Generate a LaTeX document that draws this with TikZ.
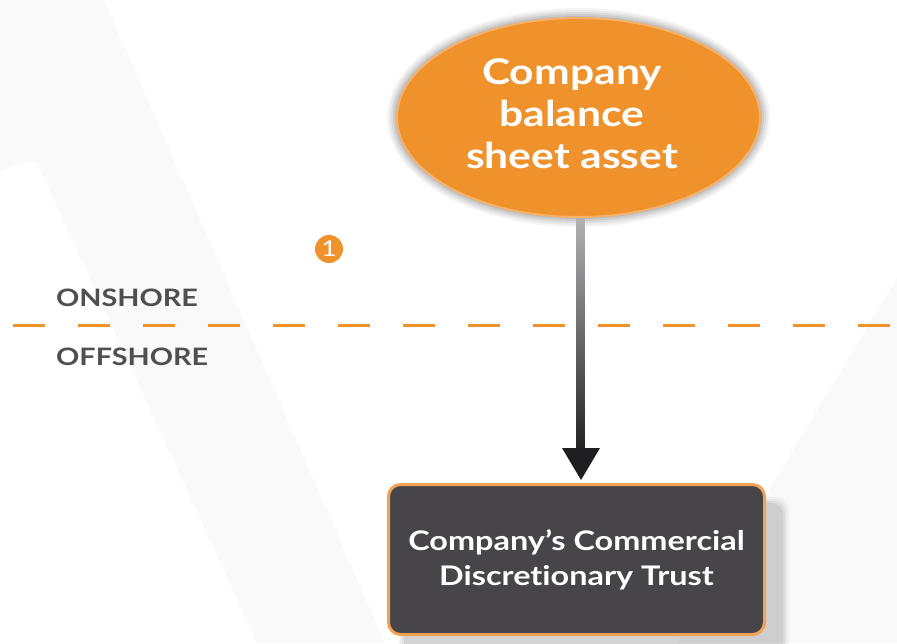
\documentclass[tikz,border=0pt]{standalone}
\usepackage{fontspec}
\setmainfont{Lato}[FakeStretch=1.2, Ligatures={NoCommon,NoRare}]
\usetikzlibrary{shapes.geometric,calc}
\definecolor{orng}{HTML}{F0922B}
\definecolor{orngl}{HTML}{F6B06A}
\definecolor{orngbox}{HTML}{F2A255}
\definecolor{boxfill}{HTML}{47454A}
\definecolor{txtgray}{HTML}{4E4E53}
\definecolor{wm}{HTML}{F9F9F9}
\definecolor{shafttop}{HTML}{B2B2B6}
\definecolor{shaftbot}{HTML}{232325}
\definecolor{headcol}{HTML}{1E1E20}
\tikzset{
  zonelabel/.style={text=txtgray, font=\fontsize{24}{26}\selectfont\bfseries, anchor=base west, inner sep=0pt},
  bigtext/.style={text=white, font=\fontsize{35.5}{42}\selectfont\bfseries, align=center},
  boxtext/.style={text=white, font=\fontsize{27}{35}\selectfont\bfseries, align=center},
}
\begin{document}
\begin{tikzpicture}[x=1pt,y=-1pt]
\useasboundingbox (0,0) rectangle (897,643);
\clip (0,0) rectangle (897,643);
% faint watermark
\fill[wm] (0,0) -- (104,0) -- (385,643) -- (257,643) -- (37,163) .. controls (22,160) and (10,166) .. (0,173) -- cycle;
\fill[wm] (677,643) -- (897,277) -- (897,643) -- cycle;
% dashed divider
\draw[orng, line width=3pt, dash pattern=on 32pt off 33pt] (13,325) -- (897,325);
\node[zonelabel] (on) at (56,306) {ONSHORE};
\node[zonelabel] (off) at (56,365) {OFFSHORE};
% ellipse halo
\foreach \d/\o in {10/0.04,8/0.05,6/0.06,4/0.07,2/0.08}
  \fill[black, opacity=\o] (578.5,117.5) ellipse [x radius=181.5+\d, y radius=99.5+\d];
\node[ellipse, fill=orng, draw=orngl, line width=2pt, minimum width=363pt, minimum height=199pt, inner sep=0pt] (ell) at (578.5,117.5) {};
\node[bigtext] (elltxt) at (572,114) {Company\\balance\\sheet asset};
% box shadow
\foreach \d/\o in {6/0.03,4/0.04,2/0.05,0/0.06}
  \fill[black, opacity=\o, rounded corners=12pt] (387+17-\d,483+20-\d) rectangle (766+17+\d,636+20+\d);
\node[draw=orngbox, line width=3pt, fill=boxfill, rounded corners=12pt, minimum width=376pt, minimum height=150pt, boxtext] (box) at (576.5,559.5) {Company’s Commercial\\Discretionary Trust};
% connector
\shade[top color=shafttop, bottom color=shaftbot] ($(ell.south)+(-2.5,0)$) rectangle ($(box.north)+(8,-34)$);
\fill[headcol] ($(box.north)+(-14.5,-35)$) -- ($(box.north)+(23.5,-35)$) -- ($(box.north)+(4.5,-3)$) -- cycle;
% step marker
\node[circle, fill=orng, minimum size=28pt, inner sep=0pt, text=white, font=\fontsize{22}{22}\selectfont] (step1) at (329,249) {1};
\end{tikzpicture}
\end{document}
